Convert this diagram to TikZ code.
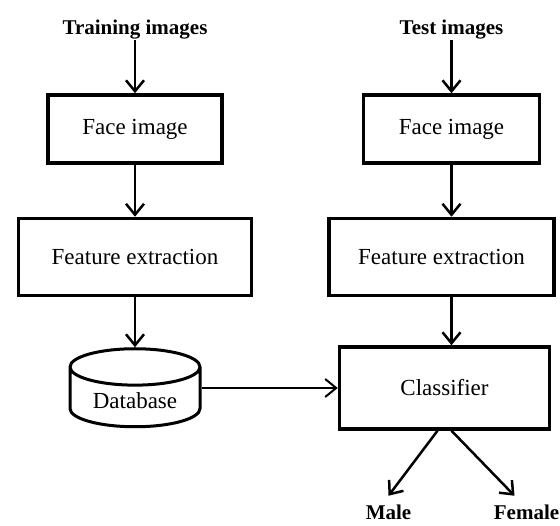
\documentclass[tikz,border=0pt]{standalone}
\usepackage{fontspec}
\setmainfont{Liberation Serif}
\usetikzlibrary{positioning,shapes.geometric,arrows.meta}

\begin{document}
\begin{tikzpicture}[
      x=1pt, y=1pt,
      nodes={font=\fontsize{23}{27}\selectfont},
      box/.style={draw, line width=3.5pt, fill=white, minimum height=68pt},
      lbl/.style={font=\fontsize{21}{25}\selectfont\bfseries, inner sep=0pt,
        text height=14pt, text depth=4pt},
      db/.style={cylinder, shape border rotate=90, aspect=0.4, draw,
        line width=3pt, minimum width=130pt, minimum height=78pt},
      >={Straight Barb[length=11pt, width=18pt]}, line width=2.5pt
      ]
      \useasboundingbox (0,0) rectangle (560,-526);

      \node[box, minimum width=174pt] at (135,-129) (face1) {Face image};
      \node[lbl, above=53pt of face1] (train) {Training images};
      \node[box, minimum width=233pt, minimum height=77pt, below=52pt of face1] (feat1) {Feature extraction};
      \node[db, below=50pt of feat1] (db) {Database};

      \node[box, minimum width=176pt, right=138pt of face1] (face2) {Face image};
      \node[lbl, above=53pt of face2] (test) {Test images};
      \node[box, minimum width=225pt, minimum height=77pt, below=52pt of face2, xshift=-10pt] (feat2) {Feature extraction};
      \node[box, minimum width=210pt, minimum height=82pt, below=48pt of feat2, xshift=3pt] (cls) {Classifier};

      \node[lbl, below=74pt of cls, xshift=-56pt] (male) {Male};
      \node[lbl, below=74pt of cls, xshift=82pt] (female) {Female};

  % Connect the nodes
  \draw[->] (train) -- (face1);
  \draw[->] (face1) -- (feat1);
  \draw[->] (feat1) -- (db);
  \draw[->] (test) -- (face2);
  \draw[->] (face2) -- (face2 |- feat2.north);
  \draw[->] (feat2.south -| face2) -- (cls.north -| face2);
  \draw[->, line width=2pt] (db.east |- cls.west) -- (cls.west);
  \draw[->] ([xshift=-7pt]cls.south) -- ([yshift=9pt]male.north);
  \draw[->] ([xshift=7pt]cls.south) -- ([xshift=-12pt, yshift=9pt]female.north);

\end{tikzpicture}
\end{document}
